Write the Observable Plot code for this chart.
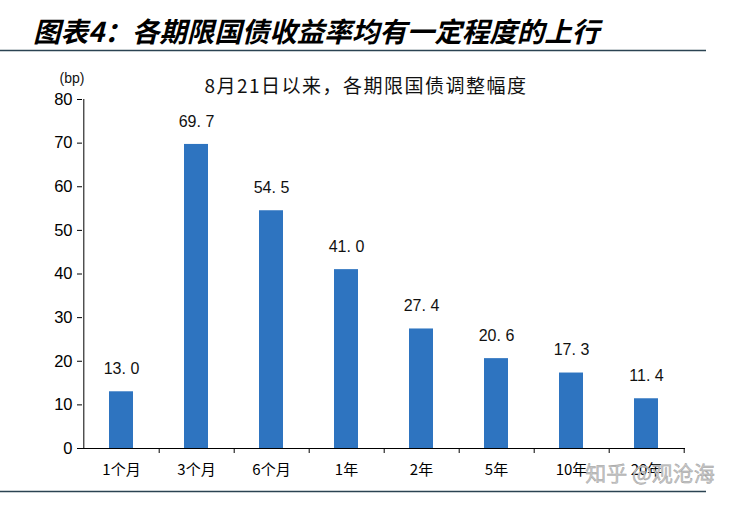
<!DOCTYPE html>
<html><head><meta charset="utf-8">
<script src="https://cdn.jsdelivr.net/npm/d3@7"></script>
<script src="https://cdn.jsdelivr.net/npm/@observablehq/plot@0.6"></script>
<style>
body{margin:0;background:#fff;}
#chart svg{display:block;}
</style>
</head><body><div id="chart"></div>
<script>
const titleText = "图表4：各期限国债收益率均有一定程度的上行";
const subtitleText = "8月21日以来，各期限国债调整幅度";
const unitLabel = "(bp)";
const watermark = "知乎 @观沧海";
const categories = ["1个月","3个月","6个月","1年","2年","5年","10年","20年"];
const values = [13.0, 69.7, 54.5, 41.0, 27.4, 20.6, 17.3, 11.4];
const yTicks = [0,10,20,30,40,50,60,70,80];

const data = categories.map((c,i)=>({cat:c, val:values[i]}));
const W=736, H=505, mL=82, mR=51, mT=99, mB=57;
const bw = (W-mL-mR)/categories.length;
const cjk = "'Noto Sans CJK SC', 'Noto Sans', sans-serif";
const latin = "'Liberation Sans', Arial, sans-serif";

const plot = Plot.plot({
  width: W, height: H,
  marginLeft: mL, marginRight: mR, marginTop: mT, marginBottom: mB,
  style: {background:"#fff", color:"#000"},
  x: {domain: categories, paddingInner: 0.68, paddingOuter: 0.34, label: null},
  y: {domain: [0,80], label: null},
  marks: [
    Plot.barY(data, {x:"cat", y:"val", fill:"#2E74C0"}),
    Plot.text(data, {x:"cat", y:"val", text: d=>d.val.toFixed(1).replace(".", ". "), dy:-23, fontSize:16, fontFamily: latin, fill:"#111"}),
    Plot.axisY({ticks: yTicks, tickSize:5, tickPadding:5, fontSize:16.5, fontFamily: latin, label:null, stroke:"#000"}),
    Plot.axisX({tickSize:0, tickPadding:16, fontSize:15, fontFamily: cjk, label:null}),
    Plot.ruleX(categories, {x: d=>d, dx: bw/2, y1:0, y2:0, insetBottom:-5, stroke:"#000"}),
    Plot.ruleY([0], {stroke:"#000"}),
    Plot.ruleX([categories[0]], {x: d=>d, dx: -bw/2, y1:0, y2:80, stroke:"#000"})
  ]
});
document.getElementById("chart").appendChild(plot);

const svg = d3.select(plot);
svg.append("text").attr("x",33).attr("y",42).attr("text-anchor","start")
  .attr("font-family",cjk).attr("font-size",27.5).attr("font-weight","bold").attr("font-style","italic")
  .attr("fill","#000").text(titleText);
svg.append("line").attr("x1",0).attr("x2",706).attr("y1",50.5).attr("y2",50.5).attr("stroke","#2b4352").attr("stroke-width",1.5);
svg.append("line").attr("x1",0).attr("x2",706).attr("y1",491.5).attr("y2",491.5).attr("stroke","#2b4352").attr("stroke-width",1.5);
svg.append("text").attr("x",366).attr("y",93).attr("text-anchor","middle")
  .attr("font-family",cjk).attr("font-size",19).attr("letter-spacing","1.5px")
  .attr("fill","#111").text(subtitleText);
svg.append("text").attr("x",72).attr("y",83).attr("text-anchor","middle")
  .attr("font-family",latin).attr("font-size",14).attr("fill","#111").text(unitLabel);
svg.append("text").attr("x",650).attr("y",481).attr("text-anchor","middle")
  .attr("font-family",cjk).attr("font-size",21).attr("fill","#c8c8c8")
  .attr("stroke","#9a9a9a").attr("stroke-width",0.4).text(watermark);
</script>
</body></html>
